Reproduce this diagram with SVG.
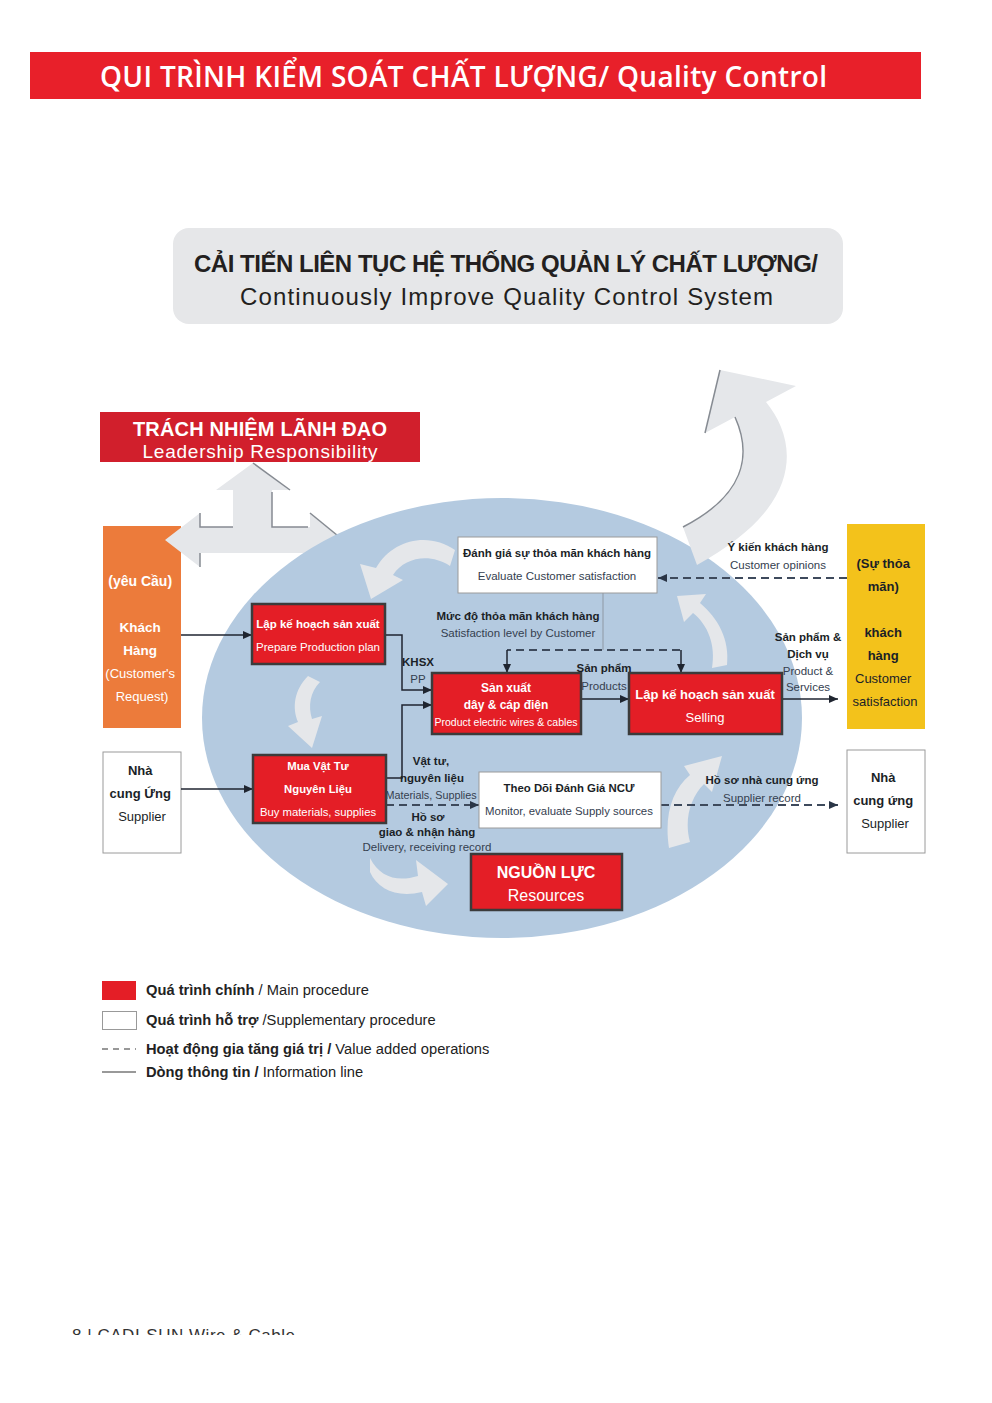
<svg xmlns="http://www.w3.org/2000/svg" width="992" height="1403" viewBox="0 0 992 1403">
<style>
.t{font-family:"Liberation Sans",Arial,sans-serif}
.b{font-weight:bold}
.w{fill:#fff}
.d{fill:#1b1f27}
.g{fill:#34404f}
.red{fill:#e41e26;stroke:#3b3b3b;stroke-width:2.5}
.wb{fill:#fff;stroke:#9a9a9a;stroke-width:1}
.arr{fill:#e5e7ea}
.edge{fill:none;stroke:#868b92;stroke-width:1.5}
.ln{stroke:#1f2530;stroke-width:1.5;fill:none}
.dl{stroke:#3e4a5c;stroke-width:2;stroke-dasharray:8 5;fill:none}
</style>
<defs>
<marker id="ah" markerWidth="9" markerHeight="8" refX="9" refY="4" orient="auto" markerUnits="userSpaceOnUse"><path d="M0,0 L9,4 L0,8 Z" fill="#1f2530"/></marker>
<marker id="ahd" markerWidth="9" markerHeight="8" refX="9" refY="4" orient="auto" markerUnits="userSpaceOnUse"><path d="M0,0 L9,4 L0,8 Z" fill="#2a3546"/></marker>
<clipPath id="fc"><rect x="0" y="1320" width="992" height="15"/></clipPath>
</defs>
<rect width="992" height="1403" fill="#fff"/>

<g id="title">
<rect x="30" y="52" width="891" height="47" fill="#e8202a"/>
<text x="100" y="87" font-family="'Open Sans','Liberation Sans',sans-serif" font-weight="600" font-size="28" fill="#fff" textLength="727">QUI TRÌNH KIỂM SOÁT CHẤT LƯỢNG/ Quality Control</text>
</g>

<g id="improve">
<rect x="173" y="228" width="670" height="96" rx="16" fill="#e6e7e9"/>
<text x="194" y="272" class="t b" font-size="24" fill="#231f20" textLength="624">CẢI TIẾN LIÊN TỤC HỆ THỐNG QUẢN LÝ CHẤT LƯỢNG/</text>
<text x="240" y="305" class="t" font-size="24" fill="#231f20" textLength="533">Continuously Improve Quality Control System</text>
</g>

<g id="leadership">
<rect x="100" y="412" width="320" height="50" fill="#d11f2c"/>
<text x="260" y="436" class="t b w" font-size="20" text-anchor="middle" textLength="254">TRÁCH NHIỆM LÃNH ĐẠO</text>
<text x="260" y="458" class="t w" font-size="19" text-anchor="middle" textLength="235">Leadership Responsibility</text>
</g>

<g id="customer">
<rect x="103" y="526" width="78" height="202" fill="#ec7b3b"/>
<text class="t w" font-size="13" text-anchor="middle">
<tspan x="142" y="586" font-weight="bold" font-size="14">(yêu Cầu)</tspan>
<tspan x="142" y="632" font-weight="bold" font-size="13.5">Khách</tspan>
<tspan x="142" y="655" font-weight="bold" font-size="13.5">Hàng</tspan>
<tspan x="142" y="678">(Customer's</tspan>
<tspan x="142" y="701">Request)</tspan>
</text>
</g>

<g id="leader-arrow">
<polygon class="arr" points="253,463 290,490 272,490 272,527 310,527 310,513 343,540 310,567 310,553 200,553 200,567 165,540 200,513 200,527 233,527 233,490 216,490"/>
<polyline class="edge" points="253,463 290,490"/>
<polyline class="edge" points="272,492 272,527 308,527"/>
<polyline class="edge" points="200,513 200,527 233,527"/>
<polyline class="edge" points="310,513 343,540"/>
<polyline class="edge" points="200,553 200,567"/>
</g>

<g id="supplier-left">
<rect x="103" y="752" width="78" height="101" class="wb"/>
<text class="t d" font-size="13" text-anchor="middle">
<tspan x="142" y="775" font-weight="bold">Nhà</tspan>
<tspan x="142" y="798" font-weight="bold">cung Ứng</tspan>
<tspan x="142" y="821">Supplier</tspan>
</text>
</g>

<g id="satisfaction">
<rect x="847" y="524" width="78" height="205" fill="#f3c21b"/>
<text class="t d" font-size="13" text-anchor="middle">
<tspan x="885" y="568" font-weight="bold">(Sự thỏa</tspan>
<tspan x="885" y="591" font-weight="bold">mãn)</tspan>
<tspan x="885" y="637" font-weight="bold">khách</tspan>
<tspan x="885" y="660" font-weight="bold">hàng</tspan>
<tspan x="885" y="683">Customer</tspan>
<tspan x="885" y="706">satisfaction</tspan>
</text>
</g>

<g id="supplier-right">
<rect x="847" y="750" width="78" height="103" class="wb"/>
<text class="t d" font-size="13" text-anchor="middle">
<tspan x="885" y="782" font-weight="bold">Nhà</tspan>
<tspan x="885" y="805" font-weight="bold">cung ứng</tspan>
<tspan x="885" y="828">Supplier</tspan>
</text>
</g>

<ellipse id="system" cx="502" cy="718" rx="300" ry="220" fill="#b4cae0"/>

<g id="improve-arrow">
<path class="arr" d="M720,370 L796,386 L766,402 C797,440 807,505 697,565 L683,527 C745,495 752,455 735,417 L705,433 Z"/>
<path class="edge" d="M720,370 L705,433"/>
<path class="edge" d="M735,417 C752,455 745,495 683,527"/>
</g>

<g id="cycle-arrows">
<path class="arr" d="M455,550 C430,532 393,538 376,568 L360,564 L371,599 L403,580 L393,575 C405,557 430,553 450,566 Z"/>
<path class="arr" d="M308,676 C294,690 292,708 298,722 L288,726 L312,748 L322,716 L312,719 C308,706 310,692 320,682 Z"/>
<path class="arr" d="M370,858 C380,878 398,882 418,876 L416,860 L448,884 L426,906 L422,892 C398,898 378,890 370,872 Z"/>
<path class="arr" d="M669,848 C664,815 672,790 690,775 L684,766 L722,756 L712,792 L704,784 C690,798 684,820 690,842 Z"/>
<path class="arr" d="M712,668 C716,645 708,625 693,613 L684,622 L677,596 L706,594 L700,603 C718,618 730,640 727,665 Z"/>
</g>

<g id="connectors">
<line class="ln" x1="181" y1="635" x2="252" y2="635" marker-end="url(#ah)"/>
<line class="ln" x1="181" y1="789" x2="253" y2="789" marker-end="url(#ah)"/>
<polyline class="ln" points="385,635 402,635 402,690 432,690" marker-end="url(#ah)"/>
<polyline class="ln" points="386,778 402,778 402,705 432,705" marker-end="url(#ah)"/>
<line class="ln" x1="581" y1="699" x2="629" y2="699" marker-end="url(#ah)"/>
<line class="ln" x1="782" y1="699" x2="838" y2="699" marker-end="url(#ah)"/>
<line class="dl" x1="847" y1="578" x2="658" y2="578" marker-end="url(#ahd)"/>
<line x1="603" y1="593" x2="603" y2="650" stroke="#8e98a4" stroke-width="1"/>
<polyline class="dl" points="680,650 507,650"/>
<line class="ln" x1="507" y1="650" x2="507" y2="673" marker-end="url(#ah)"/>
<line class="ln" x1="681" y1="650" x2="681" y2="673" marker-end="url(#ah)"/>
<line class="dl" x1="386" y1="805" x2="479" y2="805" marker-end="url(#ahd)"/>
<line class="dl" x1="661" y1="805" x2="838" y2="805" marker-end="url(#ahd)"/>
</g>

<g id="evaluate">
<rect x="458" y="537" width="199" height="56" class="wb"/>
<text x="557" y="557" class="t b d" font-size="11.5" text-anchor="middle">Đánh giá sự thỏa mãn khách hàng</text>
<text x="557" y="580" class="t g" font-size="11.5" text-anchor="middle">Evaluate Customer satisfaction</text>
</g>

<g id="prepare">
<rect x="252" y="604" width="133" height="60" class="red"/>
<text x="318" y="628" class="t b w" font-size="11.5" text-anchor="middle">Lập kế hoạch sản xuất</text>
<text x="318" y="651" class="t w" font-size="11.5" text-anchor="middle">Prepare Production plan</text>
</g>

<g id="produce">
<rect x="432" y="673" width="149" height="61" class="red"/>
<text x="506" y="692" class="t b w" font-size="12" text-anchor="middle">Sản xuất</text>
<text x="506" y="709" class="t b w" font-size="12" text-anchor="middle">dây &amp; cáp điện</text>
<text x="506" y="726" class="t w" font-size="10.5" text-anchor="middle">Product electric wires &amp; cables</text>
</g>

<g id="selling">
<rect x="629" y="673" width="153" height="61" class="red"/>
<text x="705" y="699" class="t b w" font-size="13" text-anchor="middle">Lập kế hoạch sản xuất</text>
<text x="705" y="722" class="t w" font-size="13" text-anchor="middle">Selling</text>
</g>

<g id="purchase">
<rect x="253" y="755" width="133" height="68" class="red"/>
<text x="318" y="770" class="t b w" font-size="11.3" text-anchor="middle">Mua Vật Tư</text>
<text x="318" y="793" class="t b w" font-size="11.3" text-anchor="middle">Nguyên Liệu</text>
<text x="318" y="816" class="t w" font-size="11.3" text-anchor="middle">Buy materials, supplies</text>
</g>

<g id="monitor">
<rect x="479" y="772" width="182" height="56" class="wb"/>
<text x="569" y="792" class="t b d" font-size="11.4" text-anchor="middle">Theo Dõi Đánh Giá NCƯ</text>
<text x="569" y="815" class="t g" font-size="11.4" text-anchor="middle">Monitor, evaluate Supply sources</text>
</g>

<g id="resources">
<rect x="471" y="854" width="151" height="56" class="red"/>
<text x="546" y="878" class="t b w" font-size="16" text-anchor="middle">NGUỒN LỰC</text>
<text x="546" y="901" class="t w" font-size="16" text-anchor="middle">Resources</text>
</g>

<g id="labels" class="t" font-size="11.5" text-anchor="middle">
<text x="778" y="551" class="b d">Ý kiến khách hàng</text>
<text x="778" y="569" class="g">Customer opinions</text>
<text x="518" y="620" class="b d">Mức độ thỏa mãn khách hàng</text>
<text x="518" y="637" class="g">Satisfaction level by Customer</text>
<text x="418" y="666" class="b d">KHSX</text>
<text x="418" y="683" class="g">PP</text>
<text x="604" y="672" class="b d">Sản phẩm</text>
<text x="604" y="690" class="g">Products</text>
<text x="808" y="641" class="b d">Sản phẩm &amp;</text>
<text x="808" y="658" class="b d">Dịch vụ</text>
<text x="808" y="675" class="g">Product &amp;</text>
<text x="808" y="691" class="g">Services</text>
<text x="431" y="765" class="b d">Vật tư,</text>
<text x="432" y="782" class="b d">nguyên liệu</text>
<text x="431" y="799" class="g" font-size="10.8">Materials, Supplies</text>
<text x="428" y="821" class="b d">Hồ sơ</text>
<text x="427" y="836" class="b d">giao &amp; nhận hàng</text>
<text x="427" y="851" class="g">Delivery, receiving record</text>
<text x="762" y="784" class="b d">Hồ sơ nhà cung ứng</text>
<text x="762" y="802" class="g">Supplier record</text>
</g>

<g id="legend" class="t" font-size="14.7">
<rect x="102" y="981" width="34" height="19" fill="#e41e26"/>
<text x="146" y="995" fill="#222"><tspan font-weight="bold">Quá trình chính</tspan> / Main procedure</text>
<rect x="102.5" y="1011.5" width="34" height="18" fill="#fff" stroke="#999"/>
<text x="146" y="1025" fill="#222"><tspan font-weight="bold">Quá trình hỗ trợ</tspan> /Supplementary procedure</text>
<line x1="102" y1="1049" x2="136" y2="1049" stroke="#777" stroke-width="1.5" stroke-dasharray="6 5"/>
<text x="146" y="1054" fill="#222"><tspan font-weight="bold">Hoạt động gia tăng giá trị /</tspan> Value added operations</text>
<line x1="102" y1="1072" x2="136" y2="1072" stroke="#777" stroke-width="1.5"/>
<text x="146" y="1077" fill="#222"><tspan font-weight="bold">Dòng thông tin /</tspan> Information line</text>
</g>

<g id="footer" clip-path="url(#fc)">
<text x="72" y="1341" class="t" font-size="17" fill="#333" textLength="223">8 | CADI-SUN Wire &amp; Cable</text>
</g>
</svg>
